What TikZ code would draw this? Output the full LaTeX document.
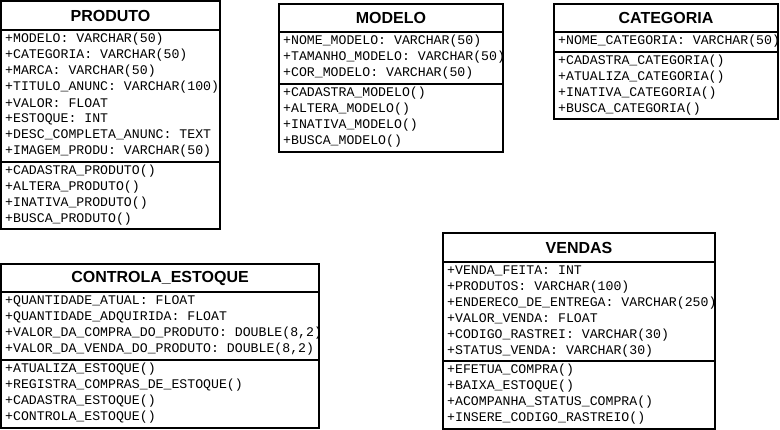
\documentclass[tikz,border=0pt]{standalone}
\usepackage{fontspec}
\setmainfont{Liberation Sans}
\newfontfamily\umlmono{Liberation Mono}
\tikzset{
  classline/.style={line width=2pt, draw=black},
  titletext/.style={font=\fontsize{16}{16}\selectfont\bfseries, inner sep=0pt},
  rowtext/.style={font=\umlmono\fontsize{13.2}{13.2}\selectfont, anchor=west, inner sep=0pt},
}
\begin{document}
\begin{tikzpicture}[x=1pt,y=-1pt]
\useasboundingbox[fill=white] (0,0) rectangle (780,430);

% ---------- PRODUTO ----------
\node[titletext] (produto) at (110.5,15.5) {PRODUTO};
\begin{scope}
\clip (1,1) rectangle (220,229);
\foreach \t [count=\i from 0] in {+MODELO: VARCHAR(50),+CATEGORIA: VARCHAR(50),+MARCA: VARCHAR(50),+TITULO\_ANUNC: VARCHAR(100),+VALOR: FLOAT,+ESTOQUE: INT,+DESC\_COMPLETA\_ANUNC: TEXT,+IMAGEM\_PRODU: VARCHAR(50)}
  \node[rowtext] (produto-a\i) at (5,39+16*\i) {\t};
\foreach \t [count=\i from 0] in {+CADASTRA\_PRODUTO(),+ALTERA\_PRODUTO(),+INATIVA\_PRODUTO(),+BUSCA\_PRODUTO()}
  \node[rowtext] (produto-m\i) at (5,171+16*\i) {\t};
\end{scope}
\draw[classline] (1,1) rectangle (220,229);
\draw[classline] (1,30) -- (220,30);
\draw[classline] (1,162) -- (220,162);

% ---------- MODELO ----------
\node[titletext] (modelo) at (391,18) {MODELO};
\begin{scope}
\clip (279,4) rectangle (503,152);
\foreach \t [count=\i from 0] in {+NOME\_MODELO: VARCHAR(50),+TAMANHO\_MODELO: VARCHAR(50),+COR\_MODELO: VARCHAR(50)}
  \node[rowtext] (modelo-a\i) at (283,41+16*\i) {\t};
\foreach \t [count=\i from 0] in {+CADASTRA\_MODELO(),+ALTERA\_MODELO(),+INATIVA\_MODELO(),+BUSCA\_MODELO()}
  \node[rowtext] (modelo-m\i) at (283,93+16*\i) {\t};
\end{scope}
\draw[classline] (279,4) rectangle (503,152);
\draw[classline] (279,32) -- (503,32);
\draw[classline] (279,84) -- (503,84);

% ---------- CATEGORIA ----------
\node[titletext] (categoria) at (666,18) {CATEGORIA};
\begin{scope}
\clip (554,4) rectangle (778,119);
\node[rowtext] (categoria-a0) at (558,41) {+NOME\_CATEGORIA: VARCHAR(50)};
\foreach \t [count=\i from 0] in {+CADASTRA\_CATEGORIA(),+ATUALIZA\_CATEGORIA(),+INATIVA\_CATEGORIA(),+BUSCA\_CATEGORIA()}
  \node[rowtext] (categoria-m\i) at (558,61+16*\i) {\t};
\end{scope}
\draw[classline] (554,4) rectangle (778,119);
\draw[classline] (554,32) -- (778,32);
\draw[classline] (554,52) -- (778,52);

% ---------- CONTROLA_ESTOQUE ----------
\node[titletext] (estoque) at (160,278) {CONTROLA\_ESTOQUE};
\begin{scope}
\clip (1,264) rectangle (319,428);
\foreach \t [count=\i from 0] in {+QUANTIDADE\_ATUAL: FLOAT,+QUANTIDADE\_ADQUIRIDA: FLOAT,{+VALOR\_DA\_COMPRA\_DO\_PRODUTO: DOUBLE(8,2)},{+VALOR\_DA\_VENDA\_DO\_PRODUTO: DOUBLE(8,2)}}
  \node[rowtext] (estoque-a\i) at (5,301+16*\i) {\t};
\foreach \t [count=\i from 0] in {+ATUALIZA\_ESTOQUE(),+REGISTRA\_COMPRAS\_DE\_ESTOQUE(),+CADASTRA\_ESTOQUE(),+CONTROLA\_ESTOQUE()}
  \node[rowtext] (estoque-m\i) at (5,369+16*\i) {\t};
\end{scope}
\draw[classline] (1,264) rectangle (319,428);
\draw[classline] (1,292) -- (319,292);
\draw[classline] (1,360) -- (319,360);

% ---------- VENDAS ----------
\node[titletext] (vendas) at (579,247.5) {VENDAS};
\begin{scope}
\clip (443,233) rectangle (715,429);
\foreach \t [count=\i from 0] in {+VENDA\_FEITA: INT,+PRODUTOS: VARCHAR(100),+ENDERECO\_DE\_ENTREGA: VARCHAR(250),+VALOR\_VENDA: FLOAT,+CODIGO\_RASTREI: VARCHAR(30),+STATUS\_VENDA: VARCHAR(30)}
  \node[rowtext] (vendas-a\i) at (447,271+16*\i) {\t};
\foreach \t [count=\i from 0] in {+EFETUA\_COMPRA(),+BAIXA\_ESTOQUE(),+ACOMPANHA\_STATUS\_COMPRA(),+INSERE\_CODIGO\_RASTREIO()}
  \node[rowtext] (vendas-m\i) at (447,370+16*\i) {\t};
\end{scope}
\draw[classline] (443,233) rectangle (715,429);
\draw[classline] (443,262) -- (715,262);
\draw[classline] (443,361) -- (715,361);
\end{tikzpicture}
\end{document}
